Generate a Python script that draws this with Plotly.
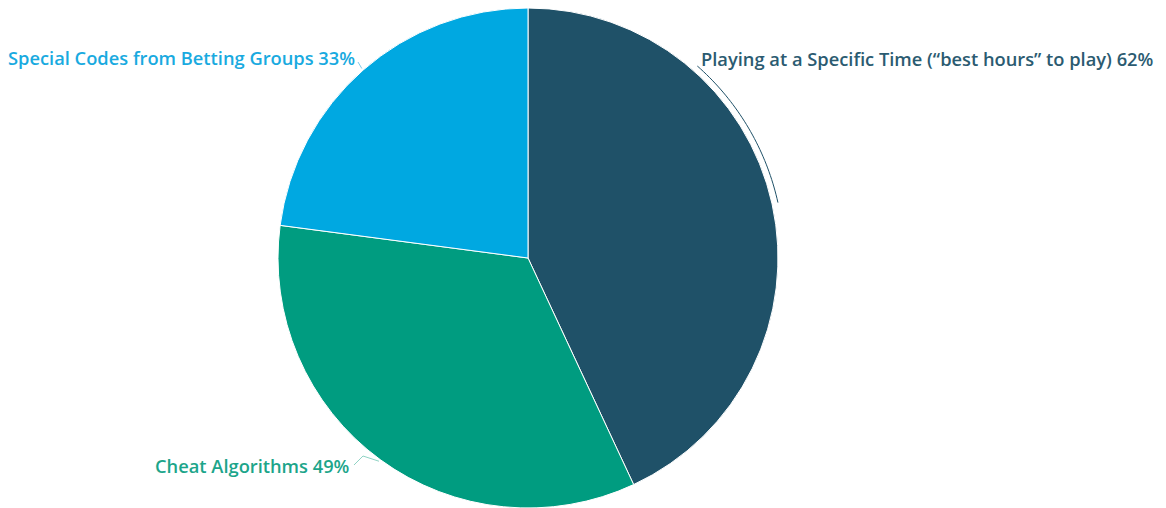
import math
import plotly.graph_objects as go

labels = ["Playing at a Specific Time (“best hours” to play)", "Cheat Algorithms", "Special Codes from Betting Groups"]
values = [62, 49, 33]
colors = ["#1F5168", "#009C80", "#00A8E1"]
text_colors = ["#2B5B71", "#1CA58A", "#19AAE0"]

W, H = 1166, 508
ML, MR, MT, MB = 0, 0, 8, 0
CX = 528
R = (H - MT - MB) / 2
CY = MT + R
PW, PH = W - ML - MR, H - MT - MB


def to_paper(px, py):
    return (px - ML) / PW, 1 - (py - MT) / PH


def polar(theta_deg, rad):
    t = math.radians(theta_deg)
    return CX + rad * math.sin(t), CY - rad * math.cos(t)


fig = go.Figure(go.Pie(
    labels=labels,
    values=values,
    sort=False,
    direction="clockwise",
    rotation=0,
    textinfo="none",
    hoverinfo="label+value",
    marker=dict(colors=colors, line=dict(color="#FFFFFF", width=1)),
    domain=dict(x=[(CX - 300 - ML) / PW, (CX + 300 - ML) / PW], y=[0, 1]),
    showlegend=False,
))

# slice mid angles from the data
total = sum(values)
mids = []
acc = 0
for v in values:
    mids.append((acc + v / 2) / total * 360)
    acc += v

shapes = []
annotations = []
font = "Open Sans"
fsize = 18.3

# Slice 0: arc leader along the pie edge up to label at top right
pts = []
a0, a1 = mids[0], 41.5
n = 40
for i in range(n + 1):
    a = a0 + (a1 - a0) * i / n
    pts.append(polar(a, R + 6))
end = (698, 66)
pts.append(end)
path = "M " + " L ".join(f"{to_paper(x, y)[0]:.5f},{to_paper(x, y)[1]:.5f}" for x, y in pts)
shapes.append(dict(type="path", path=path, xref="paper", yref="paper",
                   line=dict(color=colors[0], width=1)))
ax, ay = to_paper(699, 59)
annotations.append(dict(x=ax, y=ay, xref="paper", yref="paper", xanchor="left", yanchor="middle",
                        text=f"{labels[0]} {values[0]}%", showarrow=False,
                        font=dict(family=font, size=fsize, color=text_colors[0], weight=600)))

# Slice 1: green, lower left
p_start = polar(mids[1], R + 2)
pts = [p_start, (363, 456), (354, 465)]
path = "M " + " L ".join(f"{to_paper(x, y)[0]:.5f},{to_paper(x, y)[1]:.5f}" for x, y in pts)
shapes.append(dict(type="path", path=path, xref="paper", yref="paper",
                   line=dict(color="#8FD3C4", width=1)))
ax, ay = to_paper(352, 465)
annotations.append(dict(x=ax, y=ay, xref="paper", yref="paper", xanchor="right", yanchor="middle",
                        text=f"{labels[1]} {values[1]}%", showarrow=False,
                        font=dict(family=font, size=fsize, color=text_colors[1], weight=600)))

# Slice 2: blue, upper left
p_start = polar(mids[2], R + 2)
pts = [p_start, (358, 62)]
path = "M " + " L ".join(f"{to_paper(x, y)[0]:.5f},{to_paper(x, y)[1]:.5f}" for x, y in pts)
shapes.append(dict(type="path", path=path, xref="paper", yref="paper",
                   line=dict(color="#7FCBEA", width=1)))
ax, ay = to_paper(357, 58)
annotations.append(dict(x=ax, y=ay, xref="paper", yref="paper", xanchor="right", yanchor="middle",
                        text=f"{labels[2]} {values[2]}%", showarrow=False,
                        font=dict(family=font, size=fsize, color=text_colors[2], weight=600)))

fig.update_layout(
    width=W, height=H,
    margin=dict(l=ML, r=MR, t=MT, b=MB),
    paper_bgcolor="#FFFFFF",
    plot_bgcolor="#FFFFFF",
    shapes=shapes,
    annotations=annotations,
)

fig.write_html("out.html")
